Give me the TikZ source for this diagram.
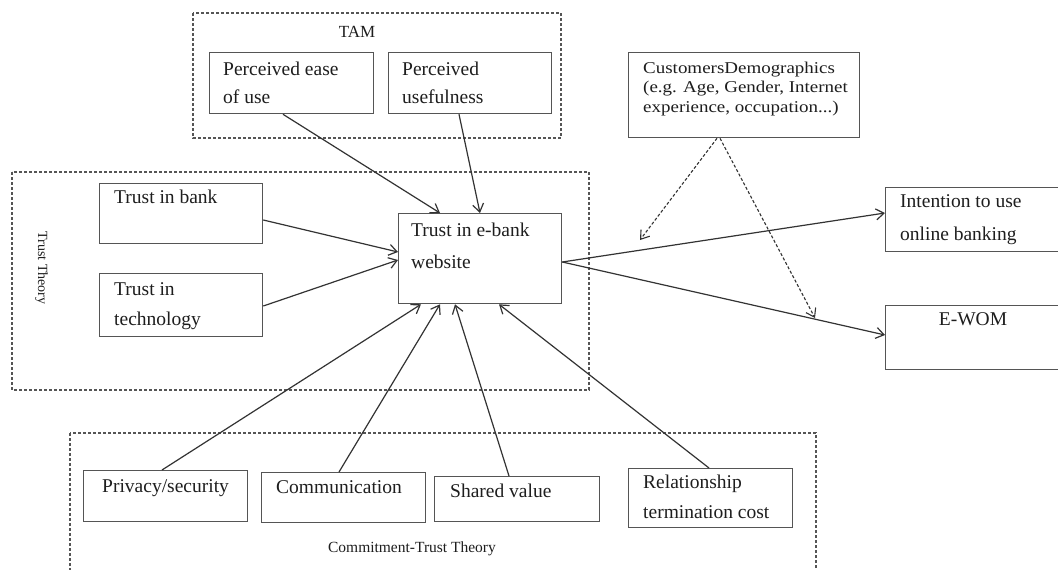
\documentclass[tikz,border=0pt]{standalone}
\usepackage{fontspec}
\setmainfont{Liberation Serif}
\usetikzlibrary{arrows.meta,calc}
\definecolor{ink}{HTML}{333333}
\definecolor{frame}{HTML}{555555}
\definecolor{words}{HTML}{1E1E1E}
\begin{document}
\begin{tikzpicture}[x=1pt,y=-1pt,
  box/.style={draw=frame, line width=1.3pt, rectangle, inner sep=0pt, anchor=north west},
  group/.style={draw=frame, line width=1.1pt, dash pattern=on 3pt off 2pt},
  txt/.style={inner sep=0pt, anchor=base west, align=left, text=words,
              font=\fontsize{19.5}{30}\selectfont},
  small/.style={inner sep=0pt, text=words, font=\fontsize{15.5}{18}\selectfont},
  link/.style={draw=ink, line width=1.2pt, -{Straight Barb[length=8pt,width=11pt]}},
  cue/.style={link, line width=1.1pt, dash pattern=on 3pt off 2pt}]
\useasboundingbox (0,0) rectangle (1058,570);
\fill[white] (0,0) rectangle (1058,570);

% theory groupings
\draw[group] (193,13) rectangle (561,138);
\draw[group] (12,172) rectangle (589,390);
\draw[group] (70,433) rectangle (816,580);
\node[small, anchor=base, font=\fontsize{17}{18}\selectfont] (tamlabel) at (357,37) {TAM};
\node[small, anchor=base, font=\fontsize{14}{18}\selectfont, rotate=-90] (trustlabel) at (38,268) {Trust Theory};
\node[small, anchor=base] (ctlabel) at (412,552) {Commitment-Trust Theory};

% construct boxes
\node[box, minimum width=164pt, minimum height=61pt] (peou)   at (209,52)  {};
\node[box, minimum width=163pt, minimum height=61pt] (pu)     at (388,52)  {};
\node[box, minimum width=163pt, minimum height=60pt] (bank)   at (99,183)  {};
\node[box, minimum width=163pt, minimum height=63pt] (tech)   at (99,273)  {};
\node[box, minimum width=163pt, minimum height=90pt] (eb)     at (398,213) {};
\node[box, minimum width=231pt, minimum height=85pt] (demo)   at (628,52)  {};
\node[box, minimum width=200pt, minimum height=64pt] (intent) at (885,187) {};
\node[box, minimum width=200pt, minimum height=64pt] (ewom)   at (885,305) {};
\node[box, minimum width=164pt, minimum height=51pt] (priv)   at (83,470)  {};
\node[box, minimum width=164pt, minimum height=50pt] (comm)   at (261,472) {};
\node[box, minimum width=165pt, minimum height=45pt] (shared) at (434,476) {};
\node[box, minimum width=164pt, minimum height=59pt] (rel)    at (628,468) {};

% box texts (multi-line nodes sit on the baseline of their last line)
\node[txt, font=\fontsize{19.5}{28}\selectfont] (peoutext) at (223,103) {Perceived ease\\of use};
\node[txt, font=\fontsize{19.5}{28}\selectfont] (putext) at (402,103) {Perceived\\usefulness};
\node[txt] (banktext) at (114,203) {Trust in bank};
\node[txt] (techtext) at (114,325) {Trust in\\technology};
\node[txt, font=\fontsize{19.5}{32}\selectfont] (ebtext) at (411,268) {Trust in e-bank\\website};
\node[small, anchor=base west, align=left, font=\fontsize{16.5}{19.5}\selectfont] (demotext) at (643,112)
  {\scalebox{1.15}[1]{CustomersDemographics}\\\scalebox{1.15}[1]{(e.g. Age, Gender, Internet}\\\scalebox{1.15}[1]{experience, occupation...)}};
\node[txt, font=\fontsize{19.5}{33}\selectfont] (intenttext) at (900,240) {Intention to use\\online banking};
\node[txt, anchor=base] (ewomtext) at (973,325) {E-WOM};
\node[txt] (privtext) at (102,492) {Privacy/security};
\node[txt] (commtext) at (276,493) {Communication};
\node[txt] (sharedtext) at (450,497) {Shared value};
\node[txt] (reltext) at (643,518) {Relationship\\termination cost};

% moderation targets
\coordinate (modA) at (640,240);
\coordinate (modB) at (815,318);

% paths into trust in the e-bank website
\draw[link] ($(peou.south west)+(74,0)$) -- ($(eb.north west)+(42,0)$);
\draw[link] ($(pu.south west)+(71,0)$) -- ($(eb.north west)+(82,0)$);
\draw[link] ($(bank.north east)+(0,37)$) -- ($(eb.north west)+(0,39)$);
\draw[link] ($(tech.north east)+(0,33)$) -- ($(eb.north west)+(0,47)$);
\draw[link] ($(priv.north west)+(79,0)$) -- ($(eb.south west)+(23,0)$);
\draw[link] ($(comm.north west)+(78,0)$) -- ($(eb.south west)+(42,0)$);
\draw[link] ($(shared.north west)+(75,0)$) -- ($(eb.south west)+(57,0)$);
\draw[link] ($(rel.north west)+(81,0)$) -- ($(eb.south west)+(101,0)$);

% outcomes
\draw[link] ($(eb.north east)+(0,49)$) -- ($(intent.north west)+(0,26)$);
\draw[link] ($(eb.north east)+(0,49)$) -- ($(ewom.north west)+(0,30)$);

% demographic moderators
\draw[cue] ($(demo.south west)+(89,0)$) -- (modA);
\draw[cue] ($(demo.south west)+(92,0)$) -- (modB);
\end{tikzpicture}
\end{document}
